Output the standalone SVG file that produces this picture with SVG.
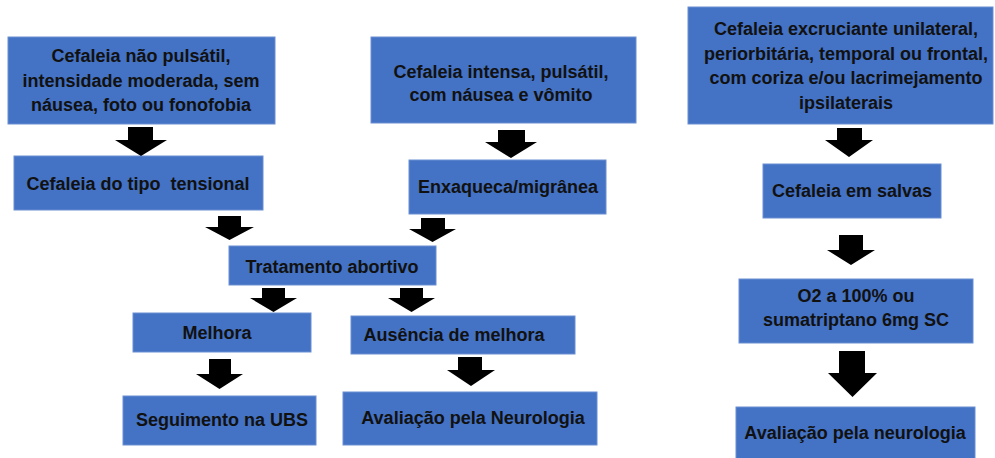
<svg xmlns="http://www.w3.org/2000/svg" width="995" height="458" viewBox="0 0 995 458">
<style>
.box{fill:#4472C4;stroke:#6b8fd2;stroke-width:1}
.t{font-family:"Liberation Sans",Arial,sans-serif;font-weight:bold;font-size:18px;fill:#111;text-anchor:middle}
.arr{fill:#000}
</style>
<rect width="995" height="458" fill="#fff"/>
<g id="n1"><rect class="box" x="8" y="37" width="267" height="87"/>
<text class="t" x="141" y="62">Cefaleia não pulsátil,</text>
<text class="t" x="141" y="86.5">intensidade moderada, sem</text>
<text class="t" x="141" y="111">náusea, foto ou fonofobia</text></g>
<g id="n2"><rect class="box" x="14" y="156" width="249" height="54"/>
<text class="t" x="138" y="190" xml:space="preserve">Cefaleia do tipo  tensional</text></g>
<g id="n3"><rect class="box" x="371" y="37" width="265" height="86"/>
<text class="t" x="501" y="78">Cefaleia intensa, pulsátil,</text>
<text class="t" x="501" y="101">com náusea e vômito</text></g>
<g id="n4"><rect class="box" x="409" y="160" width="197" height="54"/>
<text class="t" x="508" y="193">Enxaqueca/migrânea</text></g>
<g id="n5"><rect class="box" x="229" y="246" width="207" height="39"/>
<text class="t" x="332" y="273">Tratamento abortivo</text></g>
<g id="n6"><rect class="box" x="133" y="313" width="178" height="39"/>
<text class="t" x="217" y="339">Melhora</text></g>
<g id="n7"><rect class="box" x="351" y="316" width="224" height="38"/>
<text class="t" x="454" y="341">Ausência de melhora</text></g>
<g id="n8"><rect class="box" x="123" y="396" width="193" height="49"/>
<text class="t" x="222" y="426">Seguimento na UBS</text></g>
<g id="n9"><rect class="box" x="343" y="392" width="254" height="53"/>
<text class="t" x="473" y="424">Avaliação pela Neurologia</text></g>
<g id="n10"><rect class="box" x="688" y="7" width="305" height="117"/>
<text class="t" x="846" y="35">Cefaleia excruciante unilateral,</text>
<text class="t" x="846" y="59.5">periorbitária, temporal ou frontal,</text>
<text class="t" x="846" y="84">com coriza e/ou lacrimejamento</text>
<text class="t" x="846" y="108.5">ipsilaterais</text></g>
<g id="n11"><rect class="box" x="763" y="164" width="178" height="54"/>
<text class="t" x="852" y="197">Cefaleia em salvas</text></g>
<g id="n12"><rect class="box" x="739" y="279" width="234" height="64"/>
<text class="t" x="856" y="302">O2 a 100% ou</text>
<text class="t" x="856" y="326">sumatriptano 6mg SC</text></g>
<g id="n13"><rect class="box" x="736" y="407" width="239" height="60"/>
<text class="t" x="855" y="439">Avaliação pela neurologia</text></g>
<g id="connectors">
<polygon class="arr" points="128,127 153,127 153,140 167,140 141,156 115,140 128,140"/>
<polygon class="arr" points="498,130 525,130 525,142 537,142 511,158 485,142 498,142"/>
<polygon class="arr" points="218,216 241,216 241,227 254,227 229.5,240 205,227 218,227"/>
<polygon class="arr" points="421,218 445,218 445,229 456,229 432.5,242 409,229 421,229"/>
<polygon class="arr" points="262,288 285,288 285,298 297,298 273.5,312 250,298 262,298"/>
<polygon class="arr" points="400,288 423,288 423,298 435,298 411.5,312 388,298 400,298"/>
<polygon class="arr" points="209,359 231,359 231,374 243,374 219.5,389 196,374 209,374"/>
<polygon class="arr" points="458,357 482,357 482,370 495,370 471,386 447,370 458,370"/>
<polygon class="arr" points="837,128 862,128 862,140 873,140 849,157 825,140 837,140"/>
<polygon class="arr" points="839,235 863,235 863,250 875,250 851,265 827,250 839,250"/>
<polygon class="arr" points="839,351 865,351 865,373 877,373 852.5,397 828,373 839,373"/>
</g>
</svg>
